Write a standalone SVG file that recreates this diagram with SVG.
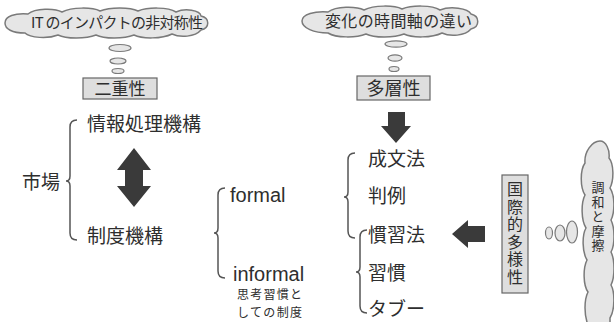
<svg xmlns="http://www.w3.org/2000/svg" width="614" height="322" viewBox="0 0 614 322">
<style>
text{font-family:"Noto Sans CJK JP","Noto Sans",sans-serif;fill:#2e2e2e}
.lat{font-family:"Liberation Sans",Arial,sans-serif}
.vt{writing-mode:vertical-rl;text-orientation:upright}
.cloud{fill:#e6e6e6;stroke:#7a7a7a;stroke-width:1.5}
.bub{fill:#e6e6e6;stroke:#7a7a7a;stroke-width:1.2}
.box{fill:#dedede;stroke:#666;stroke-width:1.2}
.arr{fill:#3a3a3a}
.brace{fill:none;stroke:#555;stroke-width:1.5}
</style>
<rect width="614" height="322" fill="#fff"/>

<g id="cloud-it">
<path class="cloud" d="M5,23 C5,16 15,13 28,14 C35,8 55,8 62,12 C72,7 92,7 100,11 C110,7 130,7 138,11 C148,7 168,7 176,12 C185,8 200,10 201,16 C210,18 210,28 201,30 C195,37 180,38 172,34 C162,39 142,39 134,35 C124,39 104,39 96,35 C86,39 66,39 58,35 C48,39 30,38 25,33 C12,33 5,29 5,23 Z"/>
<text x="31" y="28" font-size="15" textLength="172">IT のインパクトの非対称性</text>
</g>
<g id="bubbles-left">
<ellipse class="bub" cx="120" cy="48" rx="11" ry="3.5"/>
<ellipse class="bub" cx="118" cy="61" rx="8" ry="3"/>
<ellipse class="bub" cx="118" cy="71" rx="6" ry="2.5"/>
</g>
<g id="box-niju">
<rect class="box" x="83" y="78" width="74" height="21"/>
<text x="120" y="95" font-size="17" text-anchor="middle">二重性</text>
</g>

<g id="cloud-time">
<path class="cloud" d="M302,21 C302,14 315,11 328,12 C336,6 356,6 364,10 C374,5 394,5 402,9 C412,5 432,5 440,10 C450,6 468,8 471,14 C480,16 480,27 471,29 C465,36 450,37 442,33 C432,38 412,38 404,34 C394,38 374,38 366,34 C356,38 336,38 328,33 C314,33 302,28 302,21 Z"/>
<text x="325" y="27" font-size="16" textLength="147">変化の時間軸の違い</text>
</g>
<g id="bubbles-right">
<ellipse class="bub" cx="396" cy="44" rx="11" ry="3.2"/>
<ellipse class="bub" cx="395" cy="58" rx="7" ry="3.2"/>
<ellipse class="bub" cx="394" cy="69" rx="5" ry="2.5"/>
</g>
<g id="box-taso">
<rect class="box" x="357" y="76" width="73" height="24"/>
<text x="393.5" y="95" font-size="18" text-anchor="middle">多層性</text>
</g>

<g id="market">
<text x="22" y="189" font-size="19">市場</text>
</g>
<g id="info">
<text x="87" y="131" font-size="19">情報処理機構</text>
</g>
<g id="inst">
<text x="87" y="243" font-size="19">制度機構</text>
</g>
<g id="formal">
<text class="lat" x="230" y="202" font-size="20">formal</text>
</g>
<g id="informal">
<text class="lat" x="233" y="281" font-size="20">informal</text>
<text x="237" y="299" font-size="12" textLength="65">思考習慣と</text>
<text x="237" y="316.5" font-size="12" textLength="65">しての制度</text>
</g>

<g id="laws">
<text x="368" y="166" font-size="19">成文法</text>
<text x="368" y="203" font-size="19">判例</text>
<text x="368" y="242" font-size="19">慣習法</text>
<text x="368" y="280" font-size="19">習慣</text>
<text x="368" y="316" font-size="19">タブー</text>
</g>

<g id="box-intl">
<rect class="box" x="502" y="175" width="26" height="118"/>
<text class="vt" x="515" y="181" font-size="16" letter-spacing="1.5">国際的多様性</text>
</g>
<g id="bubbles-side">
<ellipse class="bub" cx="549" cy="233" rx="3.5" ry="6"/>
<ellipse class="bub" cx="560" cy="233" rx="5" ry="8"/>
<ellipse class="bub" cx="572" cy="232" rx="5.5" ry="11"/>
</g>
<g id="cloud-harmony">
<path class="cloud" d="M600,141 C606,141 610,150 609,158 C614,164 614,180 610,188 C615,195 615,212 611,220 C615,228 615,245 611,252 C615,260 615,277 611,285 C615,292 615,310 610,318 L610,325 L588,325 C584,315 584,300 588,292 C583,285 583,268 587,260 C582,252 582,235 586,228 C581,220 581,203 585,195 C580,187 580,170 585,163 C584,152 592,141 600,141 Z"/>
<text class="vt" x="598" y="181" font-size="13" letter-spacing="1.5">調和と摩擦</text>
</g>

<g id="connectors">
<path class="brace" d="M77,120 Q70,120 70,127 L70,176 Q70,181 66,181 Q70,181 70,186 L70,233 Q70,240 77,240"/>
<path class="brace" d="M225,188 Q218,188 218,195 L218,228 Q218,233 214,233 Q218,233 218,238 L218,271 Q218,278 225,278"/>
<path class="brace" d="M355,153 Q348,153 348,160 L348,192 Q348,197 344,197 Q348,197 348,202 L348,231 Q348,238 355,238"/>
<path class="brace" d="M367,230 Q360,230 360,237 L360,267 Q360,272 356,272 Q360,272 360,277 L360,306 Q360,313 367,313"/>
<polygon class="arr" points="134,148 151,170 143,170 143,186 151,186 134,207 117,186 125,186 125,170 117,170"/>
<polygon class="arr" points="388,112 405,112 405,126 411,126 396,143 381,126 388,126"/>
<polygon class="arr" points="452,234 468,220 468,226 485,226 485,242 468,242 468,248"/>
</g>
</svg>
